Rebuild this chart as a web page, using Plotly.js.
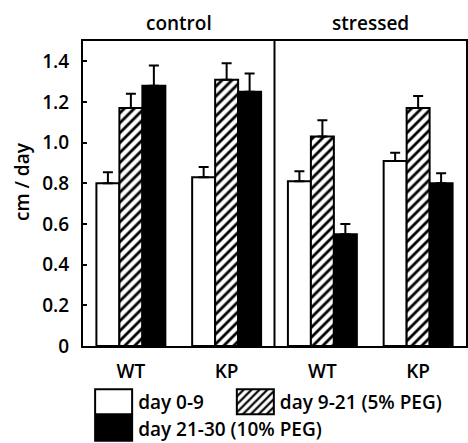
<!DOCTYPE html>
<html>
<head>
<meta charset="utf-8">
<script src="https://cdn.plot.ly/plotly-3.0.1.min.js"></script>
<style>html,body{margin:0;padding:0;background:#fff;}#chart{width:468px;height:443px;}</style>
</head>
<body>
<div id="chart"></div>
<script>
// ---- data ----
var positions = [0, 1, 2, 3];
var genotypes = ['WT', 'KP', 'WT', 'KP'];
var panels = ['control', 'stressed'];
var panelCenters = [0.5, 2.5];
var yTitle = 'cm / day';
var seriesNames = ['day 0-9', 'day 9-21 (5% PEG)', 'day 21-30 (10% PEG)'];
var day0_9 = [0.80, 0.83, 0.81, 0.91];
var day0_9_err = [0.055, 0.05, 0.05, 0.04];
var day9_21 = [1.17, 1.31, 1.03, 1.17];
var day9_21_err = [0.07, 0.08, 0.08, 0.06];
var day21_30 = [1.28, 1.25, 0.55, 0.80];
var day21_30_err = [0.10, 0.09, 0.05, 0.05];
var yTickVals = [0, 0.2, 0.4, 0.6, 0.8, 1.0, 1.2, 1.4];
var yTickText = ['0', '0.2', '0.4', '0.6', '0.8', '1.0', '1.2', '1.4'];

var FONT = 'Open Sans, Liberation Sans, sans-serif';
var FS = 19;

function errY(arr) {
  return {type: 'data', symmetric: false, array: arr, arrayminus: arr.map(function(){return 0;}),
          color: '#000', thickness: 2, width: 5};
}
var line = {color: '#000', width: 2};
var traces = [
  {type: 'bar', name: seriesNames[0], x: positions, y: day0_9, error_y: errY(day0_9_err),
   marker: {color: '#fff', line: line}, legend: 'legend'},
  {type: 'bar', name: seriesNames[1], x: positions, y: day9_21, error_y: errY(day9_21_err),
   marker: {color: '#fff', line: line, pattern: {shape: '/', fgcolor: '#000', bgcolor: '#fff', size: 7, solidity: 0.4}},
   legend: 'legend2'},
  {type: 'bar', name: seriesNames[2], x: positions, y: day21_30, error_y: errY(day21_30_err),
   marker: {color: '#000', line: line}, legend: 'legend3'}
];

var txtFont = {family: FONT, size: FS, weight: 600, color: '#000'};
var annotations = panels.map(function(p, i) {
  return {text: p, x: panelCenters[i], xref: 'x', y: 1, yref: 'paper', yanchor: 'bottom',
          yshift: 3, showarrow: false, font: txtFont};
});
annotations.push({text: yTitle, textangle: -90, xref: 'paper', yref: 'paper', x: -0.159, y: 0.538,
                  xanchor: 'center', yanchor: 'middle', showarrow: false, font: txtFont});

function leg(x, y) {
  return {orientation: 'h', x: x, xanchor: 'left', y: y, yanchor: 'top', itemwidth: 39,
          itemclick: false, itemdoubleclick: false, font: txtFont, bgcolor: 'rgba(0,0,0,0)'};
}
var layout = {
  width: 468, height: 443,
  margin: {l: 83, r: 2, t: 41, b: 97, autoexpand: false},
  paper_bgcolor: '#fff', plot_bgcolor: '#fff',
  barmode: 'group', bargap: 0.28, bargroupgap: 0,
  font: txtFont,
  xaxis: {range: [-0.5, 3.5], tickvals: positions, ticktext: genotypes, showgrid: false, zeroline: false,
          showline: true, mirror: true, linecolor: '#000', linewidth: 2, ticks: '', ticklabelstandoff: 7,
          tickfont: txtFont},
  yaxis: {range: [0, 1.5], tickvals: yTickVals, ticktext: yTickText, showgrid: false, zeroline: false,
          showline: true, mirror: true, linecolor: '#000', linewidth: 2, ticks: 'inside', ticklen: 4,
          tickwidth: 2, tickcolor: '#000', ticklabelstandoff: 8, tickfont: txtFont},
  shapes: [{type: 'line', xref: 'x', yref: 'paper', x0: 1.5, x1: 1.5, y0: 0, y1: 1,
            line: {color: '#000', width: 2}}],
  annotations: annotations,
  showlegend: true,
  legend: leg(0.016, -0.121),
  legend2: leg(0.386, -0.121),
  legend3: leg(0.016, -0.208)
};

Plotly.newPlot('chart', traces, layout, {staticPlot: true, displayModeBar: false}).then(function() {
  // enlarge legend swatches to match the reference's boxes
  document.querySelectorAll('.legendpoints path').forEach(function(p) {
    var d = p.getAttribute('d');
    if (d && d.indexOf('M6,6H-6V-6H6Z') === 0) {
      p.setAttribute('d', 'M18.5,12.5H-18.5V-12.5H18.5Z');
    }
  });
});
</script>
</body>
</html>
